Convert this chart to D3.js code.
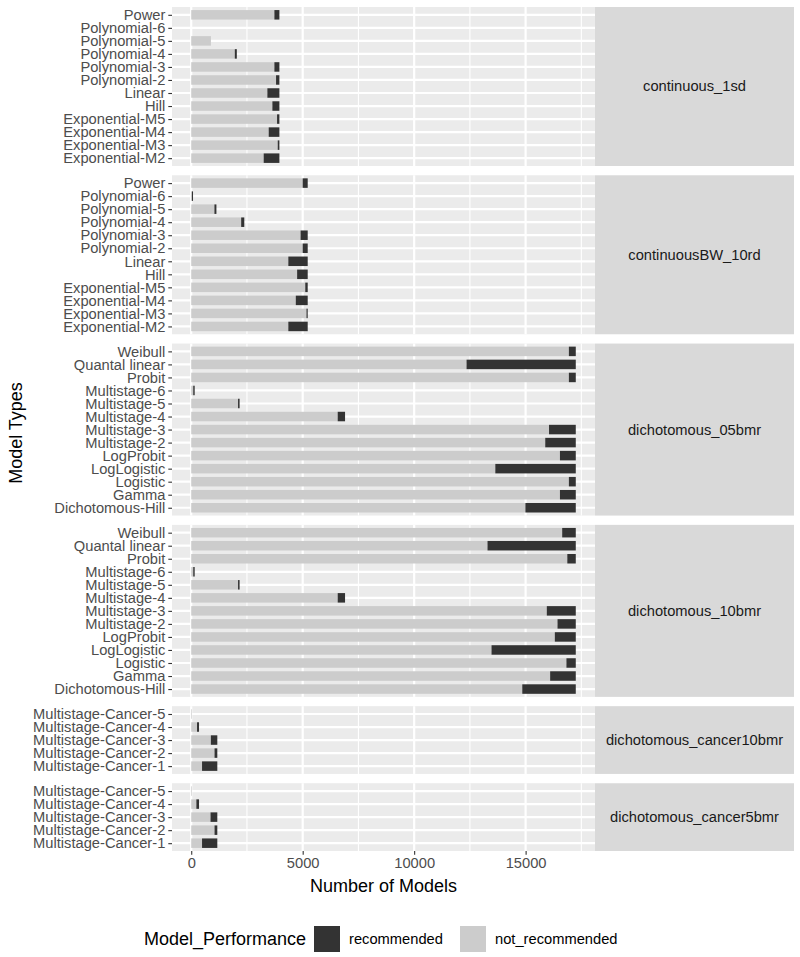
<!DOCTYPE html>
<html>
<head>
<meta charset="utf-8">
<script src="https://cdn.jsdelivr.net/npm/d3@7"></script>
<style>
  html, body { margin: 0; padding: 0; background: #fff; }
  svg { display: block; font-family: "Liberation Sans", Arial, sans-serif; }
</style>
</head>
<body>
<svg id="chart" width="800" height="957"></svg>
<script>
// ---------------- DATA ----------------
const facets = ["continuous_1sd", "continuousBW_10rd", "dichotomous_05bmr", "dichotomous_10bmr", "dichotomous_cancer10bmr", "dichotomous_cancer5bmr"];
const performanceLevels = ["recommended", "not_recommended"];

// model categories, listed top to bottom within each facet
const modelsContinuous = ["Power", "Polynomial-6", "Polynomial-5", "Polynomial-4", "Polynomial-3", "Polynomial-2", "Linear", "Hill", "Exponential-M5", "Exponential-M4", "Exponential-M3", "Exponential-M2"];
const modelsDichotomous = ["Weibull", "Quantal linear", "Probit", "Multistage-6", "Multistage-5", "Multistage-4", "Multistage-3", "Multistage-2", "LogProbit", "LogLogistic", "Logistic", "Gamma", "Dichotomous-Hill"];
const modelsCancer = ["Multistage-Cancer-5", "Multistage-Cancer-4", "Multistage-Cancer-3", "Multistage-Cancer-2", "Multistage-Cancer-1"];

// counts per facet (same order as model lists)
const notRec_continuous_1sd    = [3730, 0, 885, 1955, 3730, 3805, 3415, 3640, 3850, 3475, 3880, 3250];
const rec_continuous_1sd       = [225, 0, 0, 90, 225, 150, 540, 315, 105, 480, 75, 705];
const notRec_continuousBW_10rd = [5000, 30, 1040, 2240, 4905, 5000, 4355, 4750, 5115, 4690, 5170, 4355];
const rec_continuousBW_10rd    = [225, 50, 90, 140, 320, 225, 870, 475, 110, 535, 55, 870];
const notRec_dichotomous_05bmr = [16940, 12350, 16940, 90, 2100, 6570, 16050, 15880, 16540, 13640, 16940, 16540, 14990];
const rec_dichotomous_05bmr    = [310, 4900, 310, 65, 70, 330, 1200, 1370, 710, 3610, 310, 710, 2260];
const notRec_dichotomous_10bmr = [16640, 13290, 16870, 90, 2100, 6570, 15950, 16430, 16310, 13470, 16830, 16100, 14850];
const rec_dichotomous_10bmr    = [610, 3960, 380, 65, 70, 330, 1300, 820, 940, 3780, 420, 1150, 2400];
const notRec_cancer10bmr       = [30, 260, 880, 1045, 485];
const rec_cancer10bmr          = [0, 90, 290, 125, 685];
const notRec_cancer5bmr        = [30, 230, 865, 1045, 485];
const rec_cancer5bmr           = [0, 120, 305, 125, 685];

const xTicks = [0, 5000, 10000, 15000];
const xMinorTicks = [2500, 7500, 12500, 17500];

const facetModels = [modelsContinuous, modelsContinuous, modelsDichotomous, modelsDichotomous, modelsCancer, modelsCancer];
const facetRec = [rec_continuous_1sd, rec_continuousBW_10rd, rec_dichotomous_05bmr, rec_dichotomous_10bmr, rec_cancer10bmr, rec_cancer5bmr];
const facetNotRec = [notRec_continuous_1sd, notRec_continuousBW_10rd, notRec_dichotomous_05bmr, notRec_dichotomous_10bmr, notRec_cancer10bmr, notRec_cancer5bmr];

// ---------------- LAYOUT ----------------
const svg = d3.select("#chart");
const panelLeft = 172, panelRight = 595, stripRight = 794;
const panelsTop = 7, panelsBottom = 851, gap = 9.3;
const fontSize = 14.7;
const colors = { recommended: "#333333", not_recommended: "#CCCCCC" };

const units = facetModels.map(m => m.length + 0.2);
const totalUnits = d3.sum(units);
const unitPx = (panelsBottom - panelsTop - gap * (facets.length - 1)) / totalUnits;

const maxTotal = d3.max(facetRec.flatMap((r, i) => r.map((v, j) => v + facetNotRec[i][j])));
const x = d3.scaleLinear()
  .domain([-0.05 * maxTotal, 1.05 * maxTotal])
  .range([panelLeft, panelRight]);

let yCursor = panelsTop;
facets.forEach((facet, fi) => {
  const h = units[fi] * unitPx;
  const top = yCursor, bottom = yCursor + h;
  yCursor = bottom + gap;
  const models = facetModels[fi];
  const y = d3.scalePoint().domain(models).range([top, bottom]).padding(0.6);
  const barH = y.step() * 0.73;

  const g = svg.append("g");
  // panel background
  g.append("rect").attr("x", panelLeft).attr("y", top)
    .attr("width", panelRight - panelLeft).attr("height", h).attr("fill", "#EBEBEB");
  // minor grid
  g.selectAll(".minor").data(xMinorTicks.filter(t => x(t) < panelRight)).join("line")
    .attr("x1", d => x(d)).attr("x2", d => x(d)).attr("y1", top).attr("y2", bottom)
    .attr("stroke", "#fff").attr("stroke-width", 1.1);
  // major grid x
  g.selectAll(".majorx").data(xTicks).join("line")
    .attr("x1", d => x(d)).attr("x2", d => x(d)).attr("y1", top).attr("y2", bottom)
    .attr("stroke", "#fff").attr("stroke-width", 2.2);
  // major grid y
  g.selectAll(".majory").data(models).join("line")
    .attr("x1", panelLeft).attr("x2", panelRight).attr("y1", d => y(d)).attr("y2", d => y(d))
    .attr("stroke", "#fff").attr("stroke-width", 2.2);

  // stacked bars: not_recommended from 0, recommended stacked on top
  const rows = models.map((m, j) => ({ model: m, not_recommended: facetNotRec[fi][j], recommended: facetRec[fi][j] }));
  const stack = d3.stack().keys(["not_recommended", "recommended"])(rows);
  stack.forEach(layer => {
    g.selectAll(null).data(layer.filter(d => d[1] - d[0] > 0)).join("rect")
      .attr("x", d => x(d[0]))
      .attr("width", d => x(d[1]) - x(d[0]))
      .attr("y", d => y(d.data.model) - barH / 2)
      .attr("height", barH)
      .attr("fill", colors[layer.key]);
  });

  // y axis
  const yAxis = d3.axisLeft(y).tickSize(3.7).tickPadding(3);
  const ya = g.append("g").attr("transform", `translate(${panelLeft},0)`).call(yAxis);
  ya.select(".domain").remove();
  ya.selectAll(".tick line").attr("stroke", "#333333").attr("stroke-width", 1.1);
  ya.selectAll(".tick text").attr("fill", "#4D4D4D").style("font-size", fontSize + "px")
    .style("font-family", "Liberation Sans, Arial, sans-serif");

  // strip
  g.append("rect").attr("x", panelRight).attr("y", top)
    .attr("width", stripRight - panelRight).attr("height", h).attr("fill", "#D9D9D9");
  g.append("text").attr("x", (panelRight + stripRight) / 2).attr("y", (top + bottom) / 2)
    .attr("text-anchor", "middle").attr("dominant-baseline", "central")
    .attr("fill", "#1A1A1A").style("font-size", fontSize + "px").text(facet);

  // x axis under last panel
  if (fi === facets.length - 1) {
    const xAxis = d3.axisBottom(x).tickValues(xTicks).tickSize(3.7).tickPadding(3).tickFormat(d3.format("d"));
    const xa = svg.append("g").attr("transform", `translate(0,${bottom})`).call(xAxis);
    xa.select(".domain").remove();
    xa.selectAll(".tick line").attr("stroke", "#333333").attr("stroke-width", 1.1);
    xa.selectAll(".tick text").attr("fill", "#4D4D4D").style("font-size", fontSize + "px")
      .style("font-family", "Liberation Sans, Arial, sans-serif");
  }
});

// axis titles
svg.append("text").attr("x", (panelLeft + panelRight) / 2).attr("y", 892)
  .attr("text-anchor", "middle").attr("fill", "#000").style("font-size", "18px").text("Number of Models");
svg.append("text").attr("transform", `translate(22,${(panelsTop + panelsBottom) / 2 + 4}) rotate(-90)`)
  .attr("text-anchor", "middle").attr("fill", "#000").style("font-size", "18px").text("Model Types");

// legend
const legend = svg.append("g");
const legTitle = legend.append("text").attr("x", 144).attr("y", 945).attr("fill", "#000")
  .style("font-size", "18px").text("Model_Performance");
const keyItems = [
  { key: "recommended", kx: 314, tx: 349 },
  { key: "not_recommended", kx: 460, tx: 495 }
];
keyItems.forEach(k => {
  legend.append("rect").attr("x", k.kx).attr("y", 926).attr("width", 26).attr("height", 26)
    .attr("fill", colors[k.key]);
  legend.append("text").attr("x", k.tx).attr("y", 944).attr("fill", "#000")
    .style("font-size", fontSize + "px").text(k.key);
});
</script>
</body>
</html>
